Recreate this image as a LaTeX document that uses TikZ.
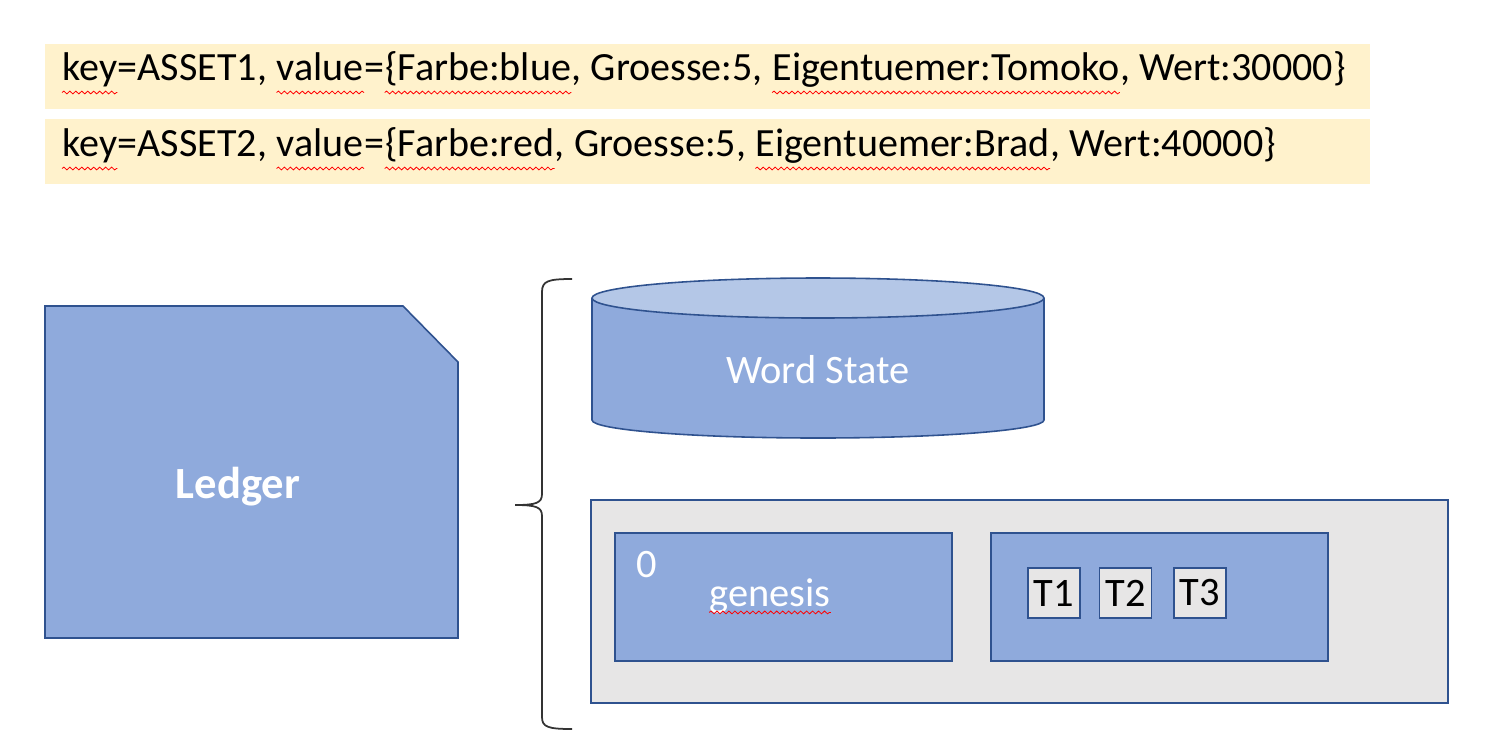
\documentclass[tikz,border=0pt]{standalone}
\usepackage{fontspec}
\setmainfont{Carlito}
\usepackage{xcolor}
\usetikzlibrary{positioning, decorations.pathmorphing}

\definecolor{notefill}{HTML}{FFF2CC}
\definecolor{ledgerblue}{HTML}{8FAADC}
\definecolor{lidblue}{HTML}{B4C7E7}
\definecolor{edgeblue}{HTML}{2F528F}
\definecolor{chaingray}{HTML}{E7E6E6}

\tikzset{
  notebar/.style={fill=notefill, minimum width=26.5cm, minimum height=1.3cm, inner sep=0pt},
  word/.style={inner sep=0pt, anchor=base west, font=\fontsize{22.8}{26}\selectfont},
  spellwave/.style={red, line width=0.45pt, decorate,
    decoration={snake, amplitude=0.8pt, segment length=3.4pt}},
  blockbox/.style={draw=edgeblue, fill=ledgerblue, line width=0.9pt,
    minimum width=6.74cm, minimum height=2.56cm},
  txbox/.style={draw=edgeblue, fill=chaingray, line width=0.9pt, inner sep=0pt,
    minimum width=1.04cm, minimum height=1cm, font=\fontsize{23}{26}\selectfont},
  whitetext/.style={text=white, inner sep=0pt, font=\fontsize{23}{26}\selectfont}
}

\begin{document}
\begin{tikzpicture}[x=0.02cm, y=-0.02cm]
  \useasboundingbox (0,0) rectangle (1511,752);

  % key/value notes
  \node[notebar] (note1) at (707.5,76) {};
  \node[notebar] (note2) at (707.5,151) {};
  \coordinate (a0) at (62,80);
  \coordinate (b0) at (62,156);
  % words, 1 = marked by the spell check
  \foreach \w/\m [count=\k] in {{key}/1,{=ASSET1,\ \mbox{}}/0,{value}/1,{=}/0,{\{Farbe:blue}/1,
      {,\ Groesse:5,\ \mbox{}}/0,{Eigentuemer:Tomoko}/1,{,\ Wert:30000\}}/0} {
    \pgfmathtruncatemacro\prev{\k-1}
    \node[word] (a\k) at (a\prev.base east) {\w};
    \ifnum\m=1 \draw[spellwave] ([yshift=-0.25cm]a\k.base west) -- ([yshift=-0.25cm]a\k.base east); \fi
  }
  \foreach \w/\m [count=\k] in {{key}/1,{=ASSET2,\ \mbox{}}/0,{value}/1,{=}/0,{\{Farbe:red}/1,
      {,\ Groesse:5,\ \mbox{}}/0,{Eigentuemer:Brad}/1,{,\ Wert:40000\}}/0} {
    \pgfmathtruncatemacro\prev{\k-1}
    \node[word] (b\k) at (b\prev.base east) {\w};
    \ifnum\m=1 \draw[spellwave] ([yshift=-0.25cm]b\k.base west) -- ([yshift=-0.25cm]b\k.base east); \fi
  }

  % ledger with snipped corner
  \draw[draw=edgeblue, fill=ledgerblue, line width=0.9pt]
    (45,306) -- (403,306) -- (458,362) -- (458,638) -- (45,638) -- cycle;
  \node[text=white, font=\bfseries\fontsize{25.4}{28}\selectfont] (ledger) at (238,487) {Ledger};

  % brace
  \draw[black!80, line width=1pt]
    (572,279) .. controls (548,279) and (542,281) .. (542,292) -- (542,494)
    .. controls (542,503) and (536,505) .. (515,505)
    .. controls (536,505) and (542,507) .. (542,516) -- (542,717)
    .. controls (542,727) and (548,729) .. (572,729);

  % world state cylinder
  \draw[draw=edgeblue, fill=ledgerblue, line width=0.9pt]
    (592,298) -- (592,420) arc[start angle=180, end angle=0, x radius=226, y radius=18] -- (1044,298);
  \draw[draw=edgeblue, fill=lidblue, line width=0.9pt] (818,298) ellipse (226 and 20);
  \node[whitetext] (state) at (818,370) {Word State};

  % blockchain
  \node[draw=edgeblue, fill=chaingray, line width=0.9pt,
    minimum width=17.14cm, minimum height=4.06cm] (chain) at (1019.5,601.5) {};
  \node[blockbox] (block0) at (783.5,597) {};
  \node[blockbox] (block1) at (1159.5,597) {};
  \node[whitetext] (num0) at (647,565) {0};
  \node[whitetext] (genesis) at (770,596) {genesis};
  \draw[spellwave] ([yshift=-0.12cm]genesis.base west) -- ([yshift=-0.12cm]genesis.base east);

  % transactions
  \foreach \i/\xc in {1/1054,2/1125.5,3/1200} {
    \node[txbox] (t\i) at (\xc,593) {T\i};
  }
\end{tikzpicture}
\end{document}
